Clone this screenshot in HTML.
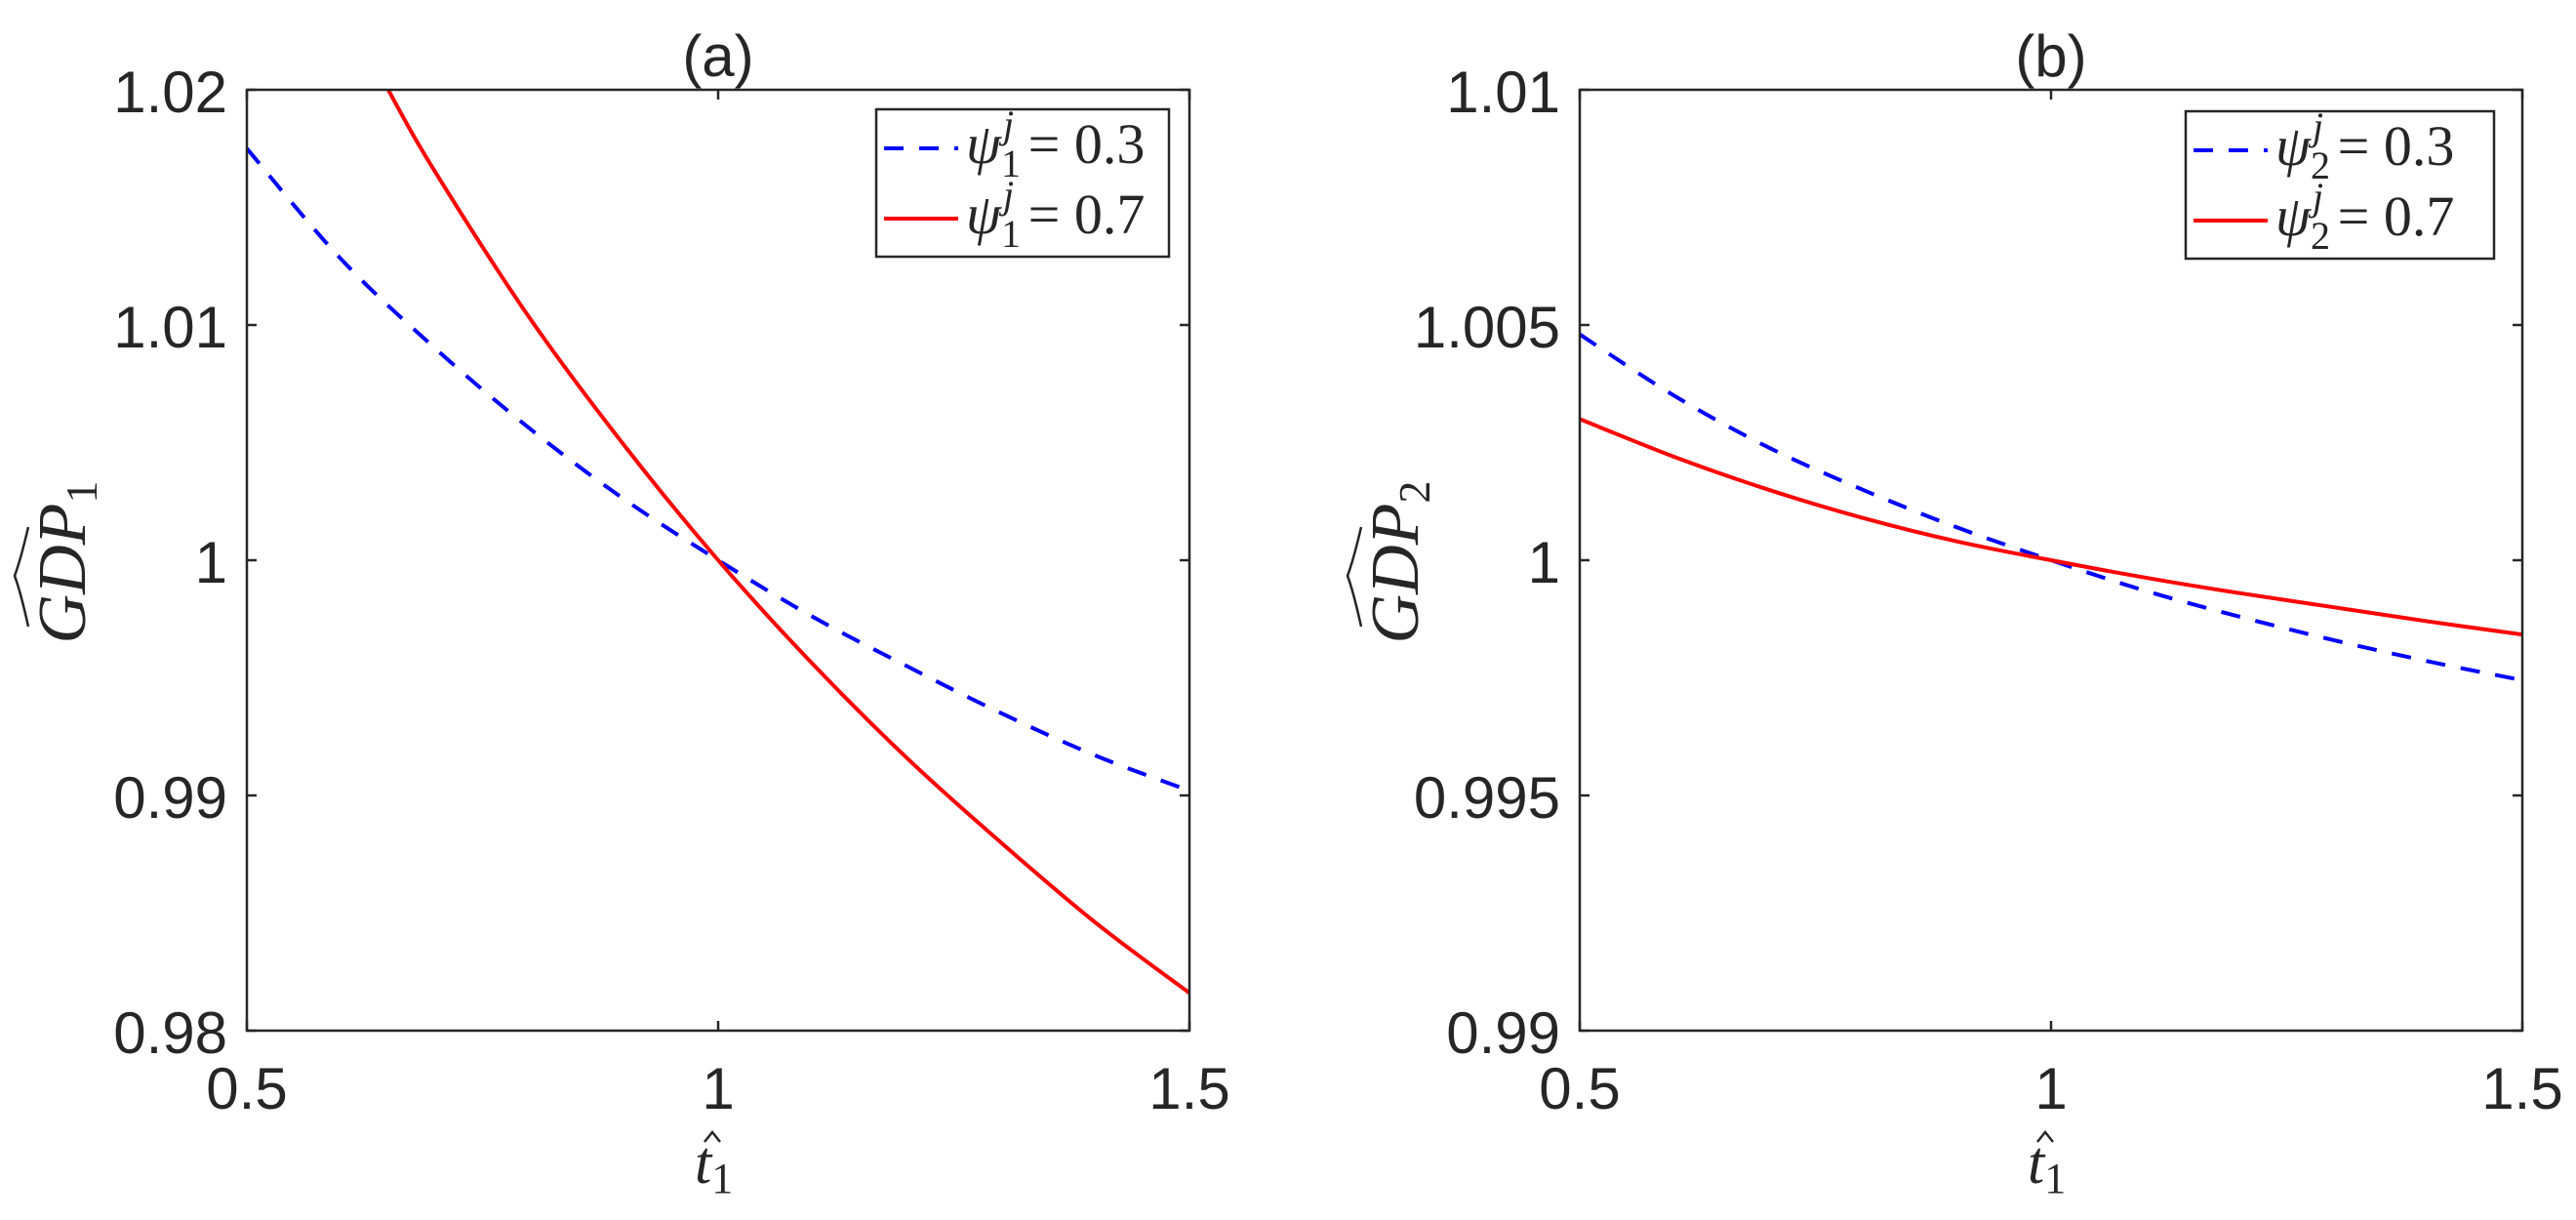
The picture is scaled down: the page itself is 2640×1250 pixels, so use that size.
<!DOCTYPE html>
<html><head><meta charset="utf-8"><style>
body{margin:0;background:#fff}
svg{display:block}
text{fill:#262626}
.tick{font-family:"Liberation Sans",sans-serif;font-size:60px}
.math{font-family:"Liberation Serif",serif;font-style:italic}
</style></head><body>
<svg id="fig" width="2640" height="1250" viewBox="0 0 2640 1250" xmlns="http://www.w3.org/2000/svg"></svg>
<script>
// ----- data -----
const xTicks = [0.5, 1, 1.5];
const xTickLabels = ["0.5", "1", "1.5"];
const aYTicks = [0.98, 0.99, 1.0, 1.01, 1.02];
const aYTickLabels = ["0.98", "0.99", "1", "1.01", "1.02"];
const bYTicks = [0.99, 0.995, 1.0, 1.005, 1.01];
const bYTickLabels = ["0.99", "0.995", "1", "1.005", "1.01"];
const aBlueX = [0.5,0.6,0.7,0.8,0.9,1.0,1.1,1.2,1.3,1.4,1.5];
const aBlueY = [1.0175,1.0128,1.0090,1.0056,1.0026,1.0,0.9976,0.9955,0.9935,0.9917,0.9902];
const aRedX = [0.6,0.65,0.7,0.8,0.9,1.0,1.1,1.2,1.3,1.4,1.5];
const aRedY = [1.0238,1.0200,1.0165,1.0103,1.0049,1.0,0.9956,0.9916,0.9880,0.9846,0.9816];
const bBlueX = [0.5,0.6,0.7,0.8,0.9,1.0,1.1,1.2,1.3,1.4,1.5];
const bBlueY = [1.0048,1.0035,1.0024,1.0015,1.0007,1.0,0.99935,0.9988,0.9983,0.99785,0.99745];
const bRedX = [0.5,0.6,0.7,0.8,0.9,1.0,1.1,1.2,1.3,1.4,1.5];
const bRedY = [1.0030,1.0022,1.0015,1.0009,1.0004,1.0,0.99963,0.9993,0.9990,0.9987,0.99842];

const NS = "http://www.w3.org/2000/svg";
const svg = document.getElementById("fig");
function mk(tag, attrs, parent){const e=document.createElementNS(NS,tag);for(const k in attrs)e.setAttribute(k,attrs[k]);(parent||svg).appendChild(e);return e;}

function smoothPath(pts){
  let d = "M" + pts[0][0].toFixed(1) + "," + pts[0][1].toFixed(1);
  for(let i=0;i<pts.length-1;i++){
    const p0=pts[Math.max(0,i-1)], p1=pts[i], p2=pts[i+1], p3=pts[Math.min(pts.length-1,i+2)];
    const c1=[p1[0]+(p2[0]-p0[0])/6, p1[1]+(p2[1]-p0[1])/6];
    const c2=[p2[0]-(p3[0]-p1[0])/6, p2[1]-(p3[1]-p1[1])/6];
    d += "C"+c1[0].toFixed(1)+","+c1[1].toFixed(1)+" "+c2[0].toFixed(1)+","+c2[1].toFixed(1)+" "+p2[0].toFixed(1)+","+p2[1].toFixed(1);
  }
  return d;
}

function panel(p){
  const g = mk("g",{});
  
  
  const sx = v => p.L + (v - 0.5) / 1.0 * (p.R - p.L);
  const sy = v => p.B - (v - p.ymin) / (p.ymax - p.ymin) * (p.B - p.T);
  const clipId = p.name + "-clip";
  const cp = mk("clipPath",{id:clipId},g);
  mk("rect",{x:p.L,y:p.T,width:p.R-p.L,height:p.B-p.T},cp);
  function line(xs, ys, color, dash, nm){
    const pts = xs.map((x,i)=>[sx(x), sy(ys[i])]);
    const el = mk("path",{d:smoothPath(pts),fill:"none",stroke:color,"stroke-width":4,"clip-path":"url(#"+clipId+")"},g);
    if(dash) el.setAttribute("stroke-dasharray", dash);
    
    
  }
  line(p.bx, p.by, "#0000ff", "20 16", "series-psi-0.3");
  line(p.rx, p.ry, "#ff0000", null, "series-psi-0.7");
  const box = mk("rect",{x:p.L,y:p.T,width:p.R-p.L,height:p.B-p.T,fill:"none",stroke:"#262626","stroke-width":2.5},g);
  
  
  xTicks.forEach((v,i)=>{
    const x = sx(v);
    mk("line",{x1:x,y1:p.B,x2:x,y2:p.B-10,stroke:"#262626","stroke-width":2.5},g);
    mk("line",{x1:x,y1:p.T,x2:x,y2:p.T+10,stroke:"#262626","stroke-width":2.5},g);
    const t = mk("text",{x:x,y:p.B+80,"text-anchor":"middle",class:"tick"},g);
    t.textContent = xTickLabels[i];
    
    
  });
  p.yt.forEach((v,i)=>{
    const y = sy(v);
    mk("line",{x1:p.L,y1:y,x2:p.L+10,y2:y,stroke:"#262626","stroke-width":2.5},g);
    mk("line",{x1:p.R,y1:y,x2:p.R-10,y2:y,stroke:"#262626","stroke-width":2.5},g);
    const t = mk("text",{x:p.L-20,y:y+23,"text-anchor":"end",class:"tick"},g);
    t.textContent = p.ytl[i];
    
    
  });
  const cx = (p.L+p.R)/2;
  const ti = mk("text",{x:cx,y:78,"text-anchor":"middle",class:"tick"},g);
  ti.textContent = p.title;
  
  
  const xl = mk("text",{x:cx-24,y:1212,class:"math","font-size":62},g);
  xl.innerHTML = 't<tspan font-size="44" dy="10" font-style="normal">1</tspan>';
  
  
  mk("path",{d:"M"+(cx-14)+",1170 L"+(cx-6)+",1160 L"+(cx+2)+",1170",fill:"none",stroke:"#262626","stroke-width":2.5},g);
  const yg = mk("g",{transform:"translate("+(p.L-166)+","+((p.T+p.B)/2+2)+") rotate(-90)"},g);
  
  
  const yl = mk("text",{x:0,y:0,"text-anchor":"middle",class:"math","font-size":70},yg);
  yl.innerHTML = 'GDP<tspan font-size="46" dy="12" font-style="normal">'+p.sub+'</tspan>';
  mk("path",{d:"M-66,-58 Q-30,-66 -14,-72 Q2,-66 36,-58",fill:"none",stroke:"#262626","stroke-width":2.5},yg);
  const lg = mk("g",{},g);
  
  
  mk("rect",{x:p.lx,y:p.ly,width:p.lw,height:151,fill:"#fff",stroke:"#262626","stroke-width":2.5},lg);
  [["#0000ff","20 16","0.3"],["#ff0000",null,"0.7"]].forEach((e,i)=>{
    const yy = p.ly + 40 + i*72;
    const ent = mk("g",{},lg);
    
    
    const l = mk("line",{x1:p.lx+8,y1:yy,x2:p.lx+84,y2:yy,stroke:e[0],"stroke-width":4},ent);
    if(e[1]) l.setAttribute("stroke-dasharray","20 16");
    const t = mk("text",{x:p.lx+92,y:yy+15,class:"math","font-size":58},ent);
    t.innerHTML = 'ψ<tspan font-size="40" dy="14" font-style="normal">'+p.sub+'</tspan><tspan font-size="40" dx="-18" dy="-40">j</tspan><tspan dy="26" font-style="normal"> = '+e[2]+'</tspan>';
  });
}
panel({name:"panel-a",L:253,R:1219,T:92,B:1056,ymin:0.98,ymax:1.02,yt:aYTicks,ytl:aYTickLabels,
  bx:aBlueX,by:aBlueY,rx:aRedX,ry:aRedY,title:"(a)",sub:"1",lx:898,ly:112,lw:300});
panel({name:"panel-b",L:1619,R:2585,T:92,B:1056,ymin:0.99,ymax:1.01,yt:bYTicks,ytl:bYTickLabels,
  bx:bBlueX,by:bBlueY,rx:bRedX,ry:bRedY,title:"(b)",sub:"2",lx:2240,ly:114,lw:316});
</script>
</body></html>
